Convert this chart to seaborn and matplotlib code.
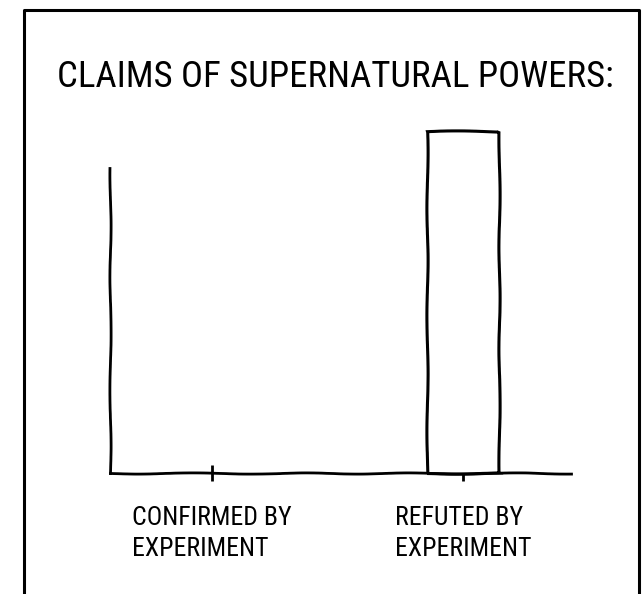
import matplotlib
matplotlib.use('Agg')
import matplotlib.pyplot as plt
import seaborn as sns
from matplotlib.lines import Line2D

sns.set_theme(style="white")

# chart data
categories = ["CONFIRMED BY\nEXPERIMENT", "REFUTED BY\nEXPERIMENT"]
claims = [0, 100]
title = "CLAIMS OF SUPERNATURAL POWERS:"

FONT = ['Roboto Condensed', 'Roboto', 'DejaVu Sans']

with plt.xkcd(scale=0.6, length=120, randomness=2):
    plt.rcParams['font.family'] = FONT
    plt.rcParams['path.effects'] = []  # no white halo, keeps ticks visible
    fig = plt.figure(figsize=(6.42, 5.94), dpi=100, facecolor='white')
    ax = fig.add_axes([0.1713, 0.2037, 0.718, 0.5758])
    ax.set_facecolor('white')

    sns.barplot(x=categories, y=claims, color='white', edgecolor='black',
                linewidth=2.2, width=0.285, saturation=1, ax=ax)
    for p in ax.patches:
        p.set_clip_on(False)
        # a zero-height bar would just draw a stray stub on the axis
        if p.get_height() == 0:
            p.set_visible(False)

    ax.set_xlim(-0.406, 1.43)
    ax.set_ylim(0, 100)
    ax.set_yticks([])
    ax.set_ylabel('')
    for side in ['top', 'right']:
        ax.spines[side].set_visible(False)
    for side in ['left', 'bottom']:
        ax.spines[side].set_color('black')
        ax.spines[side].set_linewidth(2.0)
    ax.spines['left'].set_bounds(0, 89.2)

    ax.tick_params(axis='x', bottom=True, direction='inout', length=12,
                   width=2.0, colors='black', pad=18, labelsize=18.5)
    for lab in ax.get_xticklabels():
        lab.set_multialignment('left')
        lab.set_linespacing(1.35)
        lab.set_family(FONT)

    fig.text(57 / 642, 1 - 87 / 594, title, ha='left', va='baseline',
             fontsize=26.5, color='black', family=FONT)

    # comic panel border (open at the bottom)
    bx0, bx1, by = 24 / 642, 639 / 642, 1 - 10 / 594
    border = Line2D([bx0, bx0, bx1, bx1], [0, by, by, 0], color='black',
                    linewidth=2.2, transform=fig.transFigure)
    border.set_sketch_params(None)
    fig.add_artist(border)

    fig.savefig('out.png', dpi=100, facecolor='white')
